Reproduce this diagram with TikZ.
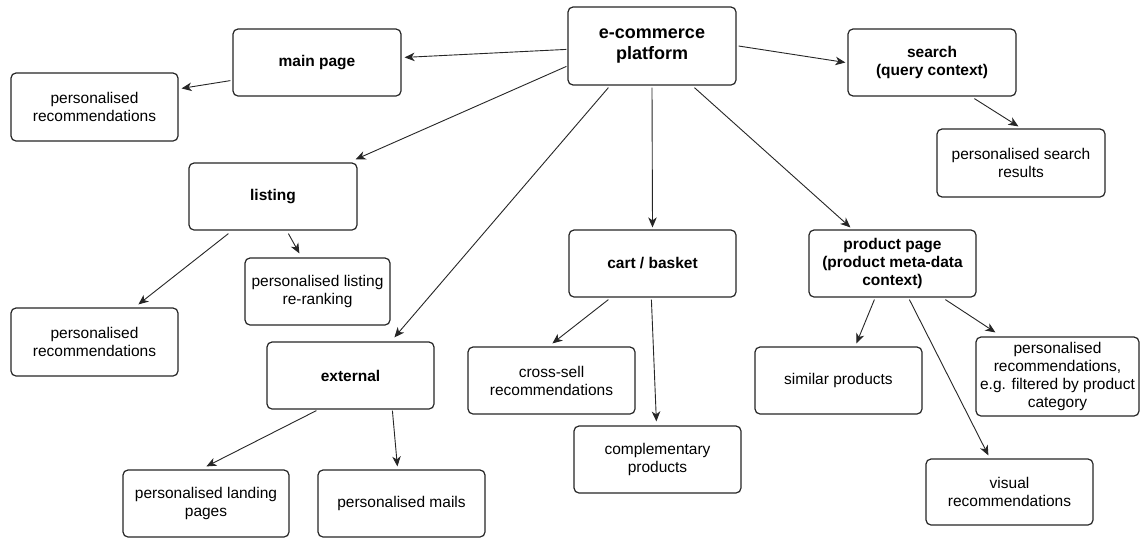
\documentclass[tikz,border=0pt]{standalone}
\usepackage{fontspec}
\setmainfont{Liberation Sans}
\usetikzlibrary{arrows.meta,calc}
\begin{document}
\begin{tikzpicture}[x=1pt,y=-1pt,
  box/.style={draw=black!85, line width=1.2pt, rounded corners=5pt, align=center,
    font=\fontsize{15.5}{18}\selectfont, inner sep=2pt},
  bbox/.style={box, font=\fontsize{15.5}{18}\selectfont\bfseries},
  wh/.style 2 args={minimum width=#1pt, minimum height=#2pt},
  conn/.style={line width=0.9pt, draw=black!85, -{Stealth[length=10pt,width=8.5pt,inset=3pt]}},
]
\useasboundingbox[fill=white] (0,0) rectangle (1141,539);

% level 0
\node[bbox, wh={168}{78}, font=\fontsize{18}{21.5}\selectfont\bfseries] (ecom) at (652,46) {e-commerce\\platform};

% level 1
\node[bbox, wh={168}{67}] (main) at (317,62.5) {main page};
\node[bbox, wh={168}{67}] (search) at (932,62.5) {search\\(query context)};
\node[bbox, wh={168}{67}] (listing) at (273,196.5) {listing};
\node[bbox, wh={167}{67}] (cart) at (652.5,263.5) {cart / basket};
\node[bbox, wh={167}{67}] (product) at (892.5,263.5) {product page\\(product meta-data\\context)};
\node[bbox, wh={167}{67}] (external) at (350.5,375.5) {external};

% leaves
\node[box, wh={167}{68}] (prtop) at (94.5,107) {personalised\\recommendations};
\node[box, wh={168}{68}] (prsearch) at (1021,163) {personalised search\\results};
\node[box, wh={167}{68}] (prleft) at (94.5,342) {personalised\\recommendations};
\node[box, wh={145}{67}] (rerank) at (317.5,291.5) {personalised listing\\re-ranking};
\node[box, wh={167}{67}] (cross) at (551.5,380.5) {cross-sell\\recommendations};
\node[box, wh={167}{67}] (compl) at (657.5,459.5) {complementary\\products};
\node[box, wh={167}{67}] (similar) at (838.5,380.5) {similar products};
\node[box, wh={163}{79}] (preg) at (1057.5,376.5) {personalised\\recommendations,\\e.g. filtered by product\\category};
\node[box, wh={167}{66}] (visual) at (1009.5,492) {visual\\recommendations};
\node[box, wh={166}{67}] (landing) at (206,503.5) {personalised landing\\pages};
\node[box, wh={167}{67}] (mails) at (401.5,503.5) {personalised mails};

% connectors
\draw[conn] ($(ecom.north west)+(-1,43)$) -- ($(main.north east)+(3,29)$);
\draw[conn] ($(ecom.north west)+(-1,60)$) -- ($(listing.north east)+(-2,-3)$);
\draw[conn] ($(ecom.south west)+(41,2)$) -- ($(external.north west)+(128,-4)$);
\draw[conn] ($(ecom.south)+(0,2)$) -- ($(cart.north)+(0,-2)$);
\draw[conn] ($(ecom.south west)+(127,2)$) -- ($(product.north west)+(42,-2)$);
\draw[conn] ($(ecom.east)+(2,0)$) -- ($(search.west)+(-2,0)$);

\draw[conn] ($(main.south west)+(-2,-16)$) -- ($(prtop.north east)+(3,16)$);
\draw[conn] ($(search.south west)+(127,2)$) -- ($(prsearch.north west)+(82,-2)$);
\draw[conn] ($(listing.south west)+(40,3)$) -- ($(prleft.north west)+(128,-3)$);
\draw[conn] ($(listing.south west)+(100,3)$) -- ($(rerank.north west)+(55,-4)$);
\draw[conn] ($(external.south west)+(50,1)$) -- ($(landing.north west)+(84,-3)$);
\draw[conn] ($(external.south west)+(126,1)$) -- ($(mails.north west)+(80,-3)$);
\draw[conn] ($(cart.south west)+(40,2)$) -- ($(cross.north west)+(85,-3)$);
\draw[conn] ($(cart.south west)+(83,2)$) -- ($(compl.north west)+(83,-4)$);
\draw[conn] ($(product.south west)+(66,2)$) -- ($(similar.north west)+(102,-3)$);
\draw[conn] ($(product.south west)+(101,2)$) -- ($(visual.north west)+(63,-3)$);
\draw[conn] ($(product.south west)+(137,2)$) -- ($(preg.north west)+(20,-4)$);
\end{tikzpicture}
\end{document}
